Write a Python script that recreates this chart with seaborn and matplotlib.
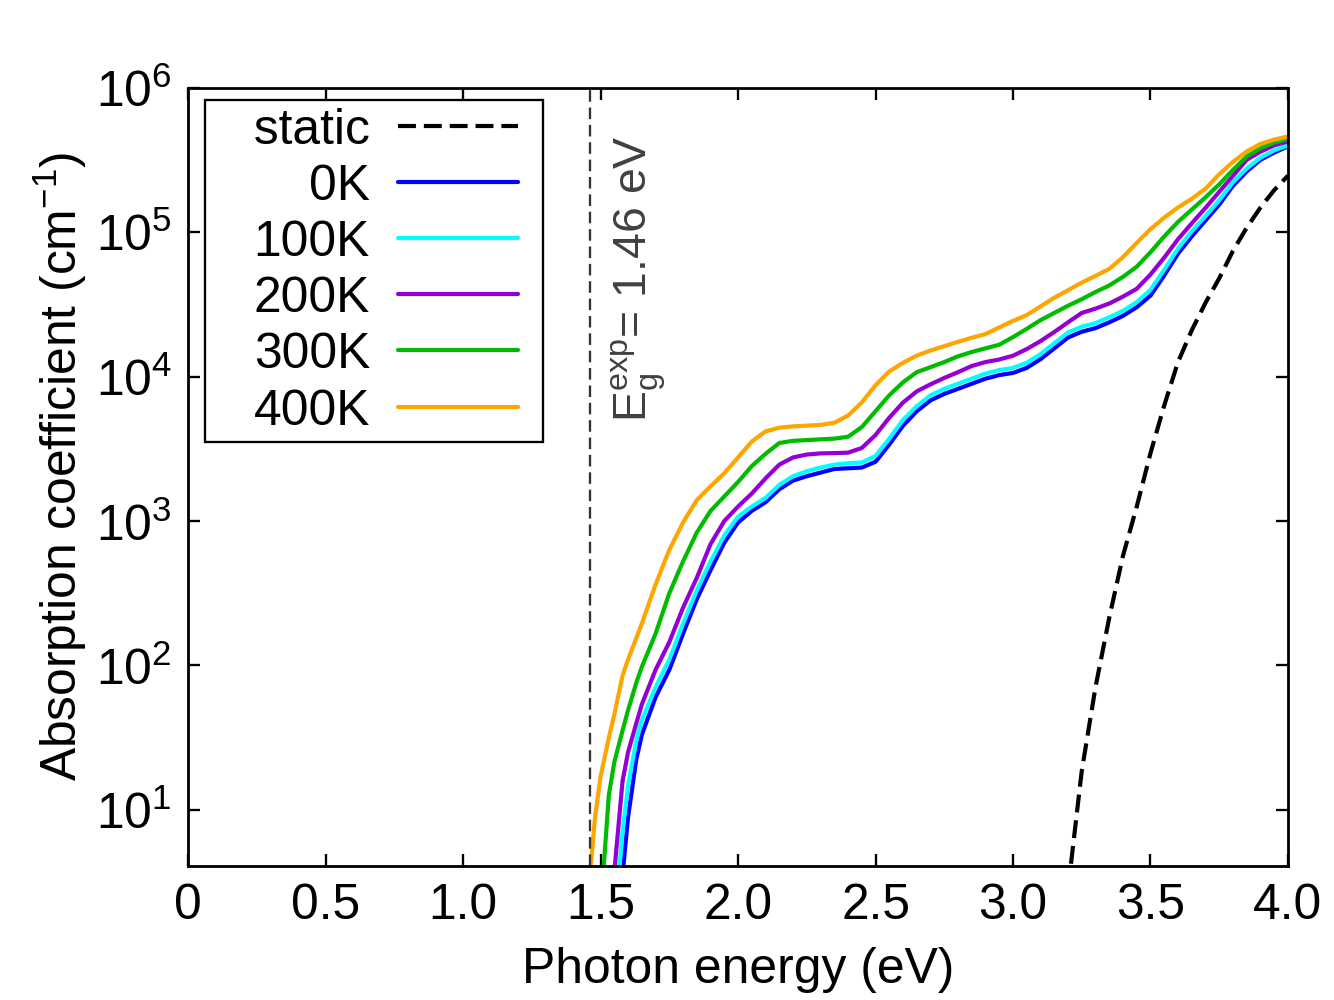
import matplotlib
matplotlib.use("Agg")
import matplotlib.pyplot as plt
from matplotlib.ticker import NullLocator
import seaborn as sns

# photon energy grid (eV) shared by the temperature curves
energy = [1.45, 1.48, 1.50, 1.53, 1.55, 1.58, 1.60, 1.63, 1.65, 1.70,
          1.75, 1.80, 1.85, 1.90, 1.95, 2.00, 2.05, 2.10, 2.15, 2.20,
          2.25, 2.30, 2.35, 2.40, 2.45, 2.50, 2.55, 2.60, 2.65, 2.70,
          2.75, 2.80, 2.85, 2.90, 2.95, 3.00, 3.05, 3.10, 3.15, 3.20,
          3.25, 3.30, 3.35, 3.40, 3.45, 3.50, 3.55, 3.60, 3.65, 3.70,
          3.75, 3.80, 3.85, 3.90, 3.95, 4.00]

# absorption coefficient (cm^-1)
alpha_0K = [0.1, 0.1, 0.1, 0.1, 0.1, 3.55, 8.91, 22.4, 33.1, 60.3,
            93.3, 166, 288, 457, 708, 977, 1175, 1349, 1660, 1905,
            2042, 2163, 2291, 2317, 2344, 2570, 3388, 4571, 5754, 6839,
            7586, 8222, 8913, 9661, 10230, 10590, 11480, 13180, 15670, 18620,
            20420, 21630, 23710, 26300, 30200, 36310, 50120, 70790, 93330, 120200,
            154900, 208900, 263000, 316200, 354800, 391700]
alpha_100K = [0.1, 0.1, 0.1, 0.1, 1.585, 7.08, 14.8, 30.2, 41.7, 70.8,
              110, 195, 331, 525, 794, 1072, 1259, 1445, 1778, 2042,
              2213, 2344, 2455, 2512, 2541, 2818, 3715, 5012, 6237, 7413,
              8222, 8913, 9661, 10470, 11090, 11480, 12450, 14290, 16980, 20180,
              22130, 23440, 25700, 28510, 32730, 39810, 54950, 76740, 101200, 128800,
              166000, 221300, 275400, 327300, 367300, 398100]
alpha_200K = [0.1, 0.1, 0.1, 1.585, 3.72, 15.8, 25.1, 39.8, 53.7, 93.3,
              145, 251, 404, 692, 1000, 1259, 1549, 1972, 2455, 2754,
              2884, 2938, 2951, 2972, 3199, 3936, 5188, 6607, 7889, 8831,
              9772, 10720, 11830, 12590, 13120, 13930, 15490, 17580, 20320, 23710,
              27540, 29510, 31990, 35730, 40460, 50820, 66530, 89130, 114800, 146900,
              189700, 244900, 316200, 359700, 398100, 423600]
alpha_300K = [0.1, 0.1, 2.0, 12.6, 21.4, 35.5, 49.0, 75.9, 97.7, 166,
              316, 525, 832, 1175, 1479, 1862, 2399, 2917, 3467, 3589,
              3631, 3673, 3715, 3828, 4467, 5754, 7413, 9120, 10720, 11610,
              12590, 13800, 14790, 15670, 16600, 18750, 21380, 24550, 27540, 30900,
              34280, 38460, 42660, 48980, 57540, 72440, 93330, 117500, 142900, 173800,
              213800, 269200, 333400, 380200, 416900, 440600]
alpha_400K = [2.0, 8.91, 17.0, 31.6, 45.7, 85.1, 110, 155, 195, 363,
              631, 977, 1396, 1738, 2138, 2754, 3548, 4169, 4426, 4519,
              4571, 4624, 4786, 5370, 6607, 8710, 10840, 12450, 13960, 15140,
              16220, 17380, 18540, 19680, 21880, 24270, 26610, 30550, 35080, 39540,
              44670, 49770, 55590, 66990, 84140, 104700, 125900, 147900, 169800, 199500,
              251200, 305500, 361400, 407400, 436500, 459200]

static_energy = [3.20, 3.25, 3.30, 3.35, 3.40, 3.45, 3.50, 3.55, 3.60,
                 3.65, 3.70, 3.75, 3.80, 3.85, 3.90, 3.95, 4.00]
static_alpha = [2.82, 18.6, 70.8, 214, 575, 1259, 2951, 6310, 12590,
                20890, 32360, 47860, 74130, 107200, 147900, 195000, 245500]

temps = ["0K", "100K", "200K", "300K", "400K"]
temp_alpha = [alpha_0K, alpha_100K, alpha_200K, alpha_300K, alpha_400K]
colors = ["#0000ff", "#00ffff", "#9400d3", "#00bb00", "#ffa500"]

x_ticks = [0, 0.5, 1.0, 1.5, 2.0, 2.5, 3.0, 3.5, 4.0]
x_tick_labels = ["0", "0.5", "1.0", "1.5", "2.0", "2.5", "3.0", "3.5", "4.0"]
eg_exp = 1.46

FS = 21.5

sns.set_style("ticks")
plt.rcParams["font.family"] = ["Liberation Sans", "DejaVu Sans"]
plt.rcParams["mathtext.fontset"] = "custom"
plt.rcParams["mathtext.rm"] = "Liberation Sans"
plt.rcParams["mathtext.it"] = "Liberation Sans:italic"
plt.rcParams["mathtext.default"] = "regular"
for key in ["text.color", "axes.labelcolor", "xtick.color", "ytick.color"]:
    plt.rcParams[key] = "black"

fig = plt.figure(figsize=(8, 6), dpi=166.75)
ax = fig.add_axes([0.141, 0.134, 0.8245, 0.778])

sns.lineplot(x=static_energy, y=static_alpha, ax=ax, color="black",
             lw=1.8, label="static", linestyle=(0, (4.3, 1.9)))
for t, a, c in zip(temps, temp_alpha, colors):
    sns.lineplot(x=energy, y=a, ax=ax, color=c, lw=1.8, label=t)

ax.axvline(eg_exp, color="0.2", ls=(0, (5, 2.5)), lw=1.0)
ax.text(1.64, 4900, r"$E_g^{exp}$= 1.46 eV", rotation=90, ha="center",
        va="bottom", fontsize=20, color="0.25")

ax.set_yscale("log")
ax.set_xlim(0, 4.0)
ax.set_ylim(4.1, 1e6)
ax.yaxis.set_minor_locator(NullLocator())
ax.set_xticks(x_ticks)
ax.set_xticklabels(x_tick_labels)
ax.tick_params(direction="in", top=True, right=True, length=5, width=1,
               labelsize=FS, pad=7)
for s in ax.spines.values():
    s.set_linewidth(1.2)
    s.set_color("black")

ax.set_xlabel("Photon energy (eV)", fontsize=FS, labelpad=8)
ax.set_ylabel("Absorption coefficient (cm$^{-1}$)", fontsize=FS, labelpad=3)
ax.yaxis.label.set_y(0.514)

handles, labels = ax.get_legend_handles_labels()
labels[0] = " \u2009" + labels[0]
leg = ax.legend(handles, labels, loc="upper left",
                bbox_to_anchor=(0.0314, 0.9846), borderaxespad=0,
                markerfirst=False, fancybox=False, edgecolor="black",
                framealpha=1, fontsize=FS, handlelength=2.41,
                handletextpad=0.56, labelspacing=0.205, borderpad=0.15)
# wider frame left/right only, like the original
leg.legendPatch.set_boxstyle("square", pad=0.36)
leg.legendPatch.set_mutation_aspect(0.001)
leg.get_frame().set_linewidth(1.0)

fig.savefig("out.png", dpi=166.75)
